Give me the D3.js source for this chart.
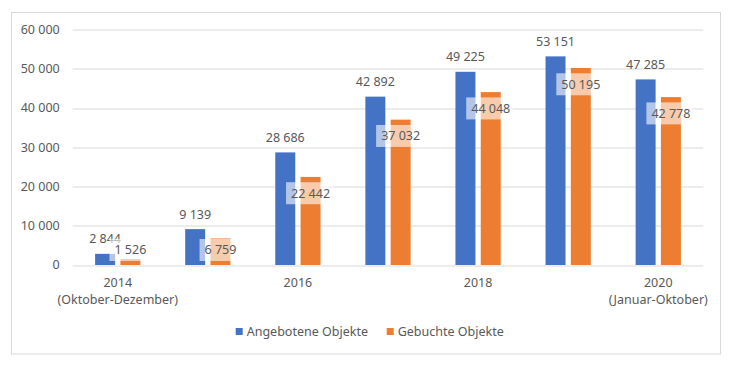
<!DOCTYPE html>
<html>
<head>
<meta charset="utf-8">
<script src="https://cdn.jsdelivr.net/npm/d3@7"></script>
<style>
  body { margin: 0; background: #fff; }
  text { font-family: "Noto Sans", sans-serif; fill: #595959; }
</style>
</head>
<body>
<div id="chart-area"></div>
<script>
// data
const years = ["2014", "2015", "2016", "2017", "2018", "2019", "2020"]
const angeboten = [2844, 9139, 28686, 42892, 49225, 53151, 47285]
const gebucht = [1526, 6759, 22442, 37032, 44048, 50195, 42778]
const xLabelLines = [["2014", "(Oktober-Dezember)"], [], ["2016"], [], ["2018"], [], ["2020", "(Januar-Oktober)"]]
const yTicks = [0, 10000, 20000, 30000, 40000, 50000, 60000]
const seriesNames = ["Angebotene Objekte", "Gebuchte Objekte"]
const seriesColors = ["#4472C4", "#ED7D31"]

const MARGIN = { LEFT: 72.7, RIGHT: 30.7, TOP: 29.5, BOTTOM: 106 }
const WIDTH = 734 - MARGIN.LEFT - MARGIN.RIGHT
const HEIGHT = 371 - MARGIN.TOP - MARGIN.BOTTOM

const fmt = d3.formatLocale({ decimal: ",", thousands: " ", grouping: [3], currency: ["", " €"] }).format(",d")

const svg = d3.select("#chart-area").append("svg")
  .attr("width", 734)
  .attr("height", 371)

// frame
svg.append("rect")
  .attr("x", 11.5).attr("y", 12.5)
  .attr("width", 709).attr("height", 341.5)
  .attr("fill", "#fff")
  .attr("stroke", "#D9D9D9")

const g = svg.append("g")
  .attr("transform", `translate(${MARGIN.LEFT}, ${MARGIN.TOP})`)

// scales
const x = d3.scaleBand()
  .domain(years)
  .range([0, WIDTH])

const x1 = d3.scaleBand()
  .domain([0, 1])
  .range([0, x.bandwidth()])
  .paddingInner(0.21)
  .paddingOuter(0.886)

const y = d3.scaleLinear()
  .domain([0, 60000])
  .range([HEIGHT, 0])

// gridlines
g.selectAll("line.grid")
  .data(yTicks)
  .enter().append("line")
  .attr("class", "grid")
  .attr("x1", 0).attr("x2", WIDTH)
  .attr("y1", d => Math.round(y(d)) + 0.5)
  .attr("y2", d => Math.round(y(d)) + 0.5)
  .attr("stroke", "#D9D9D9")
  .attr("stroke-width", 1)

// y axis labels
g.selectAll("text.ytick")
  .data(yTicks)
  .enter().append("text")
  .attr("class", "ytick")
  .attr("x", -13)
  .attr("y", d => y(d))
  .attr("dy", "0.35em")
  .attr("text-anchor", "end")
  .attr("font-size", "12.5px")
  .text(d => fmt(d))

// x axis labels
years.forEach((yr, i) => {
  xLabelLines[i].forEach((line, j) => {
    g.append("text")
      .attr("x", x(yr) + x.bandwidth() / 2)
      .attr("y", HEIGHT + 18 + j * 17)
      .attr("dy", "0.35em")
      .attr("text-anchor", "middle")
      .attr("font-size", "12.5px")
      .text(line)
  })
})

const rows = years.map((yr, i) => ({ year: yr, vals: [angeboten[i], gebucht[i]] }))

// bars
const groups = g.selectAll("g.cat")
  .data(rows)
  .enter().append("g")
  .attr("class", "cat")
  .attr("transform", d => `translate(${x(d.year)}, 0)`)

groups.selectAll("rect")
  .data(d => d.vals.map((v, k) => ({ k, v })))
  .enter().append("rect")
  .attr("x", d => x1(d.k))
  .attr("width", x1.bandwidth())
  .attr("y", d => y(d.v))
  .attr("height", d => HEIGHT - y(d.v))
  .attr("fill", d => seriesColors[d.k])

// labels for first series, above bars
groups.append("text")
  .attr("x", x1(0) + x1.bandwidth() / 2)
  .attr("y", d => y(d.vals[0]) - 15)
  .attr("dy", "0.35em")
  .attr("text-anchor", "middle")
  .attr("font-size", "12.5px")
  .text(d => fmt(d.vals[0]))

// labels for second series, inside with a light box
const lab2 = groups.append("g")
  .attr("transform", d => `translate(${x1(1) + x1.bandwidth() / 2}, ${Math.min(y(d.vals[1]) + 16.3, HEIGHT - 15)})`)

const lab2Text = lab2.append("text")
  .attr("dy", "0.35em")
  .attr("text-anchor", "middle")
  .attr("font-size", "12.5px")
  .text(d => fmt(d.vals[1]))

lab2Text.each(function() {
  const bb = this.getBBox()
  d3.select(this.parentNode).insert("rect", "text")
    .attr("x", bb.x - 5)
    .attr("y", -11)
    .attr("width", bb.width + 8)
    .attr("height", 22)
    .attr("fill", "#fff")
    .attr("fill-opacity", 0.6)
})

// legend
const legendX = [235.7, 386.7]
seriesNames.forEach((name, i) => {
  const row = svg.append("g")
    .attr("transform", `translate(${legendX[i]}, 331.5)`)
  row.append("rect")
    .attr("x", 0).attr("y", -3.5)
    .attr("width", 7).attr("height", 7)
    .attr("fill", seriesColors[i])
  row.append("text")
    .attr("x", 11)
    .attr("dy", "0.35em")
    .attr("font-size", "12.5px")
    .text(name)
})
</script>
</body>
</html>
